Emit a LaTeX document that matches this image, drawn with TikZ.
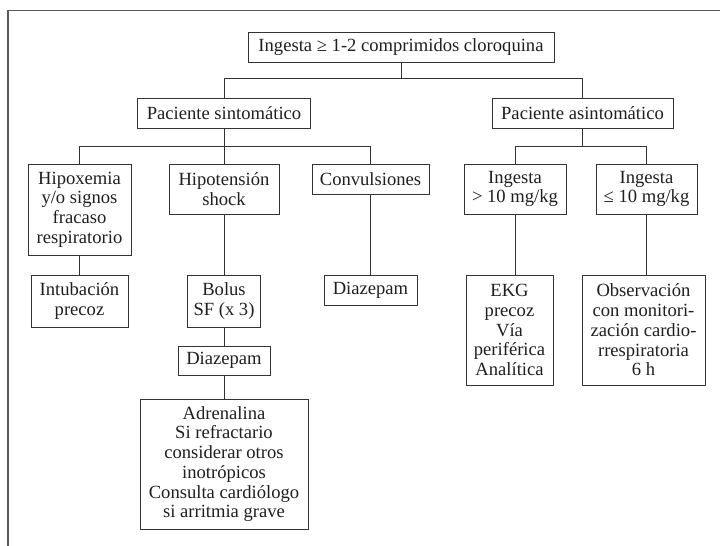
\documentclass[tikz,border=0pt]{standalone}
\usepackage{fontspec}
\setmainfont{Liberation Serif}
\begin{document}
\begin{tikzpicture}[x=1pt,y=-1pt,
  box/.style={draw=black!80,line width=0.9pt,inner sep=0pt,align=center,
    font=\fontsize{18.6}{19.7}\selectfont,text=black!88},
  link/.style={draw=black!80,line width=0.9pt}]
\useasboundingbox (0,0) rectangle (720,546);
\draw[line width=1.2pt,black!65] (720,10.5) -- (8,10.5) -- (8,546);
% nodes
\node[box,minimum width=306,minimum height=30] (root) at (401,47) {Ingesta ≥ 1-2 comprimidos cloroquina};
\node[box,minimum width=173,minimum height=30] (sint) at (224,113) {Paciente sintomático};
\node[box,minimum width=181,minimum height=30] (asint) at (582.5,113) {Paciente asintomático};
\node[box,minimum width=103,minimum height=91] (hipox) at (79.5,209.5) {Hipoxemia\\y/o signos\\fracaso\\respiratorio};
\node[box,minimum width=110,minimum height=50] (hipot) at (224,189) {Hipotensión\\shock};
\node[box,minimum width=117,minimum height=30] (conv) at (370.5,179) {Convulsiones};
\node[box,minimum width=102,minimum height=50] (ing1) at (515,189) {Ingesta\\> 10 mg/kg};
\node[box,minimum width=101,minimum height=50] (ing2) at (646.5,189) {Ingesta\\≤ 10 mg/kg};
\node[box,minimum width=97,minimum height=52] (intub) at (79.5,301) {Intubación\\precoz};
\node[box,minimum width=73,minimum height=52] (bolus) at (224,301) {Bolus\\SF (x 3)};
\node[box,minimum width=92,minimum height=29] (diaza) at (224,360.5) {Diazepam};
\node[box,minimum width=168,minimum height=130] (adren) at (224,464) {Adrenalina\\Si refractario\\considerar otros\\inotrópicos\\Consulta cardiólogo\\si arritmia grave};
\node[box,minimum width=93,minimum height=30] (diazb) at (370.5,290) {Diazepam};
\node[box,minimum width=87,minimum height=110] (ekg) at (509.5,330) {EKG\\precoz\\Vía\\periférica\\Analítica};
\node[box,minimum width=123,minimum height=110] (obs) at (643.5,330) {Observación\\con monitori-\\zación cardio-\\rrespiratoria\\6 h};
% connectors
\draw[link] (root.south) -- (root.south |- 0,78);
\draw[link] (sint.north) |- (asint.north |- 0,78) -- (asint.north);
\draw[link] (sint.south) -- (hipot.north);
\draw[link] (hipox.north) |- (conv.north |- 0,146) -- (conv.north);
\draw[link] (asint.south) -- (asint.south |- 0,146);
\draw[link] (ing1.north) |- (ing2.north |- 0,146) -- (ing2.north);
\draw[link] (hipox.south) -- (intub.north);
\draw[link] (hipot.south) -- (bolus.north);
\draw[link] (bolus.south) -- (diaza.north);
\draw[link] (diaza.south) -- (adren.north);
\draw[link] (conv.south) -- (diazb.north);
\draw[link] (ing1.south) -- (ing1.south |- ekg.north);
\draw[link] (ing2.south) -- (ing2.south |- obs.north);
\end{tikzpicture}
\end{document}
